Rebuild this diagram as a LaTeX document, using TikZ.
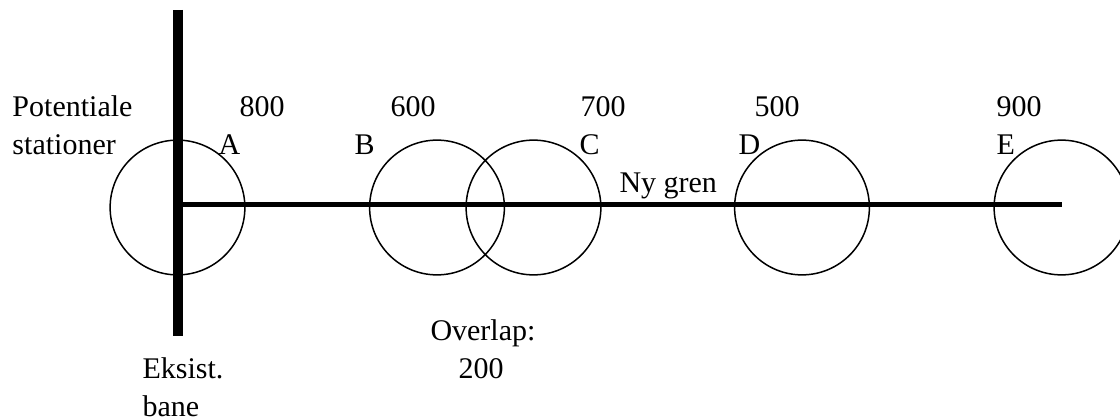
\documentclass[tikz,border=0pt]{standalone}
\usepackage{fontspec}
\setmainfont{Liberation Serif}
\begin{document}
\begin{tikzpicture}[x=0.4pt,y=-0.4pt,
  lbl/.style={anchor=base west,inner sep=0pt,font=\fontsize{12pt}{14pt}\selectfont},
  zone/.style={circle,draw,line width=0.6pt,minimum size=53.9pt,inner sep=0pt},
  existing/.style={line width=4.2pt},
  branch/.style={line width=2pt}]
\useasboundingbox (0,0) rectangle (1120,419);
\clip (0,0) rectangle (1120,419);
% circles
\node[zone] (cA) at (177.5,207.5) {};
\node[zone] (cB) at (437,207.5) {};
\node[zone] (cC) at (533.5,207.5) {};
\node[zone] (cD) at (802,207.5) {};
\node[zone] (cE) at (1061.5,207.5) {};
% lines
\coordinate (vtop) at (177.8,10);
\coordinate (vbot) at (177.8,336);
\coordinate (hstart) at (177.8,204.4);
\coordinate (hend) at (1062,204.4);
\draw[existing] (vtop) -- (vbot);
\draw[branch] (hstart) -- (hend);
% labels
\node[lbl] (pot) at (12,117) {Potentiale};
\node[lbl] (sta) at (12,155) {stationer};
\node[lbl] (n800) at (239,117) {800};
\node[lbl] (lA) at (218,155) {A};
\node[lbl] (n600) at (390,117) {600};
\node[lbl] (lB) at (354,154) {B};
\node[lbl] (n700) at (580,117) {700};
\node[lbl] (lC) at (579,155) {C};
\node[lbl] (n500) at (754,117) {500};
\node[lbl] (lD) at (738,154) {D};
\node[lbl] (n900) at (996,117) {900};
\node[lbl] (lE) at (996,155) {E};
\node[lbl] (ny) at (619,192) {Ny gren};
\node[lbl] (ov) at (430,340) {Overlap:};
\node[lbl] (ov2) at (458,378) {200};
\node[lbl] (ek) at (142,378) {Eksist.};
\node[lbl] (ba) at (142,416) {bane};
\end{tikzpicture}
\end{document}
